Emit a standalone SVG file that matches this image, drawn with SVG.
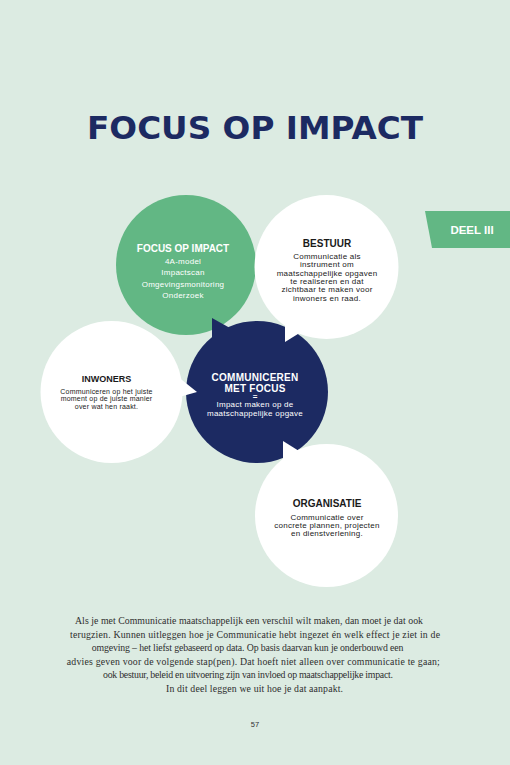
<svg xmlns="http://www.w3.org/2000/svg" width="510" height="765" viewBox="0 0 510 765">
<style>
.sans{font-family:"Liberation Sans",Arial,sans-serif;text-anchor:middle}
.h{font-weight:bold;font-size:10px}
.b{font-size:8px;letter-spacing:0.25px}
.w{fill:#ffffff}
.k{fill:#1a1a1a}
.para{font-family:"Liberation Serif","Times New Roman",serif;font-size:9.8px;fill:#2e2e2e;text-anchor:middle}
.green{fill:#62b784}
.navy{fill:#1c2a62}
.white{fill:#ffffff}
</style>
<rect x="0" y="0" width="510" height="765" fill="#dcebe2"/>
<text x="255" y="138.5" font-family="'DejaVu Sans',sans-serif" font-weight="bold" font-size="32" fill="#1c2a62" text-anchor="middle" textLength="336" lengthAdjust="spacingAndGlyphs">FOCUS OP IMPACT</text>
<g id="deel-tab">
<polygon points="425,211 510,211 510,248 432,248" class="green"/>
<text x="472" y="233.5" class="sans w" font-weight="bold" font-size="11.5">DEEL III</text>
</g>
<g id="connectors"></g>
<g id="focus-op-impact">
<circle cx="186" cy="265" r="70" class="green"/>
<text x="183" y="251.7" class="sans h w">FOCUS OP IMPACT</text>
<text x="183" y="264" class="sans b w">4A-model</text>
<text x="183" y="275.4" class="sans b w">Impactscan</text>
<text x="183" y="286.8" class="sans b w">Omgevingsmonitoring</text>
<text x="183" y="298.3" class="sans b w">Onderzoek</text>
</g>
<g id="communiceren-met-focus">
<circle cx="257" cy="392" r="71" class="navy"/>
<polygon points="212,318 230,328 230,348 212,348" class="navy"/>
<text x="255" y="381" class="sans w" font-weight="bold" font-size="10" letter-spacing="0.25">COMMUNICEREN</text>
<text x="255" y="391.6" class="sans w" font-weight="bold" font-size="10" letter-spacing="0.25">MET FOCUS</text>
<text x="255" y="399.3" class="sans w" font-weight="bold" font-size="8">=</text>
<text x="255" y="407" class="sans b w">Impact maken op de</text>
<text x="255" y="416" class="sans b w">maatschappelijke opgave</text>
</g>
<g id="inwoners">
<circle cx="111.5" cy="392" r="71" class="white"/>
<polygon points="172,372 197,392 172,399" class="white"/>
<text x="106.5" y="382" class="sans k" font-weight="bold" font-size="9">INWONERS</text>
<text x="106.5" y="393.6" class="sans k" font-size="7" letter-spacing="0.2">Communiceren op het juiste</text>
<text x="106.5" y="401.1" class="sans k" font-size="7" letter-spacing="0.2">moment op de juiste manier</text>
<text x="106.5" y="408.6" class="sans k" font-size="7" letter-spacing="0.2">over wat hen raakt.</text>
</g>
<g id="bestuur">
<circle cx="326.5" cy="267" r="72" class="white"/>
<polygon points="285,318 285,342 306,329 306,318" class="white"/>
<text x="327" y="247.3" class="sans h k">BESTUUR</text>
<text x="327" y="259" class="sans b k">Communicatie als</text>
<text x="327" y="267.3" class="sans b k">instrument om</text>
<text x="327" y="275.6" class="sans b k">maatschappelijke opgaven</text>
<text x="327" y="283.9" class="sans b k">te realiseren en dat</text>
<text x="327" y="292.2" class="sans b k">zichtbaar te maken voor</text>
<text x="327" y="300.5" class="sans b k">inwoners en raad.</text>
</g>
<g id="organisatie">
<circle cx="326.5" cy="515.5" r="71.5" class="white"/>
<polygon points="283,441 299,451 299,472 283,472" class="white"/>
<text x="327" y="506.7" class="sans h k">ORGANISATIE</text>
<text x="327" y="519.5" class="sans b k">Communicatie over</text>
<text x="327" y="527.8" class="sans b k">concrete plannen, projecten</text>
<text x="327" y="536.1" class="sans b k">en dienstverlening.</text>
</g>
<g id="intro-text">
<text x="249" y="624" class="para" textLength="348">Als je met Communicatie maatschappelijk een verschil wilt maken, dan moet je dat ook</text>
<text x="255" y="637.5" class="para" textLength="370">terugzien. Kunnen uitleggen hoe je Communicatie hebt ingezet én welk effect je ziet in de</text>
<text x="247.5" y="651" class="para" textLength="311.7">omgeving – het liefst gebaseerd op data. Op basis daarvan kun je onderbouwd een</text>
<text x="253.3" y="664.5" class="para" textLength="373">advies geven voor de volgende stap(pen). Dat hoeft niet alleen over communicatie te gaan;</text>
<text x="248" y="678" class="para" textLength="290">ook bestuur, beleid en uitvoering zijn van invloed op maatschappelijke impact.</text>
<text x="254.5" y="691.5" class="para" textLength="177">In dit deel leggen we uit hoe je dat aanpakt.</text>
</g>
<text x="255" y="727" class="sans" font-size="7.5" fill="#333333">57</text>
</svg>
